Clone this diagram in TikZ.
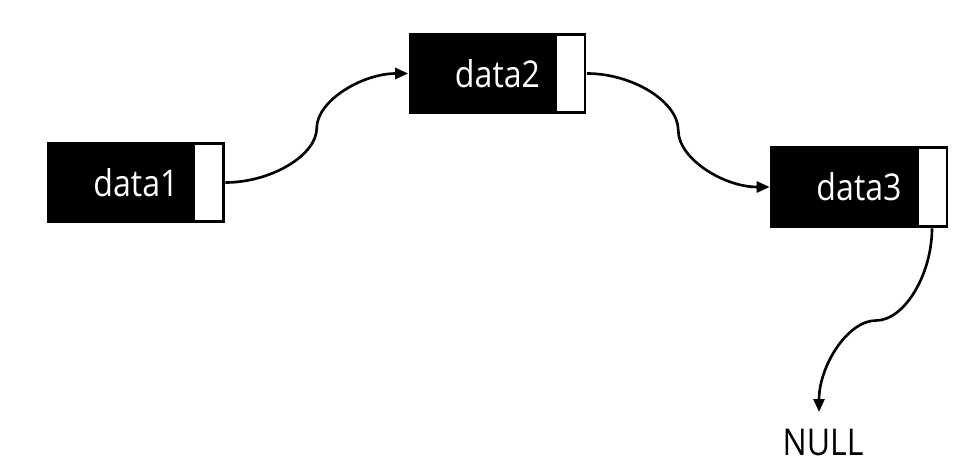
\documentclass[tikz,border=0pt]{standalone}
\usepackage{fontspec}
\setmainfont{Open Sans}[FakeStretch=0.87]
\usepackage{tikz}
\usetikzlibrary{arrows.meta,calc,positioning}

\begin{document}
\begin{tikzpicture}[x=0.02cm,y=-0.02cm,
    databox/.style={fill=black,text=white,minimum width=3.56cm,minimum height=1.64cm,inner sep=0pt,font=\fontsize{21}{25}\selectfont},
    ptrbox/.style={fill=white,minimum width=0.54cm,minimum height=1.52cm,inner sep=0pt},
    link/.style={line width=1.5pt,-{Triangle[length=0.26cm,width=0.22cm]}}]
  \useasboundingbox (0,0) rectangle (969,476);
  % Boxes
  \node[databox] (d1) at (136,182.5) {data1};
  \node[databox] (d2) at (497.5,73.5) {data2};
  \node[databox] (d3) at (859,187) {data3};
  % Pointer fields
  \node[ptrbox,anchor=east] (p1) at ([xshift=-0.05cm]d1.east) {};
  \node[ptrbox,anchor=east] (p2) at ([xshift=-0.05cm]d2.east) {};
  \node[ptrbox,anchor=east] (p3) at ([xshift=-0.05cm]d3.east) {};
  % End of list
  \node[inner sep=0pt,anchor=north,font=\fontsize{21}{25}\selectfont] (nul) at (823,429) {NULL};
  % Links
  \coordinate (m1) at ($(d1.east)!0.5!(d2.west)$);
  \coordinate (m2) at ($(d2.east)!0.5!(d3.west)$);
  \draw[link] (d1.east) .. controls +(45.75,0) and +(0,27.25) .. (m1)
    .. controls +(0,-27.25) and +(-45.75,0) .. (d2.west);
  \draw[link] (d2.east) .. controls +(45.9,0) and +(0,-28.5) .. (m2)
    .. controls +(0,28.5) and +(-45.9,0) .. (d3.west);
  \draw[link] (p3.south |- d3.south) .. controls +(0,45.75) and +(28.5,0) .. (876,320.5)
    .. controls +(-28.5,0) and +(0,-45.75) .. ([shift={(-4,-17)}]nul.north);
\end{tikzpicture}
\end{document}
